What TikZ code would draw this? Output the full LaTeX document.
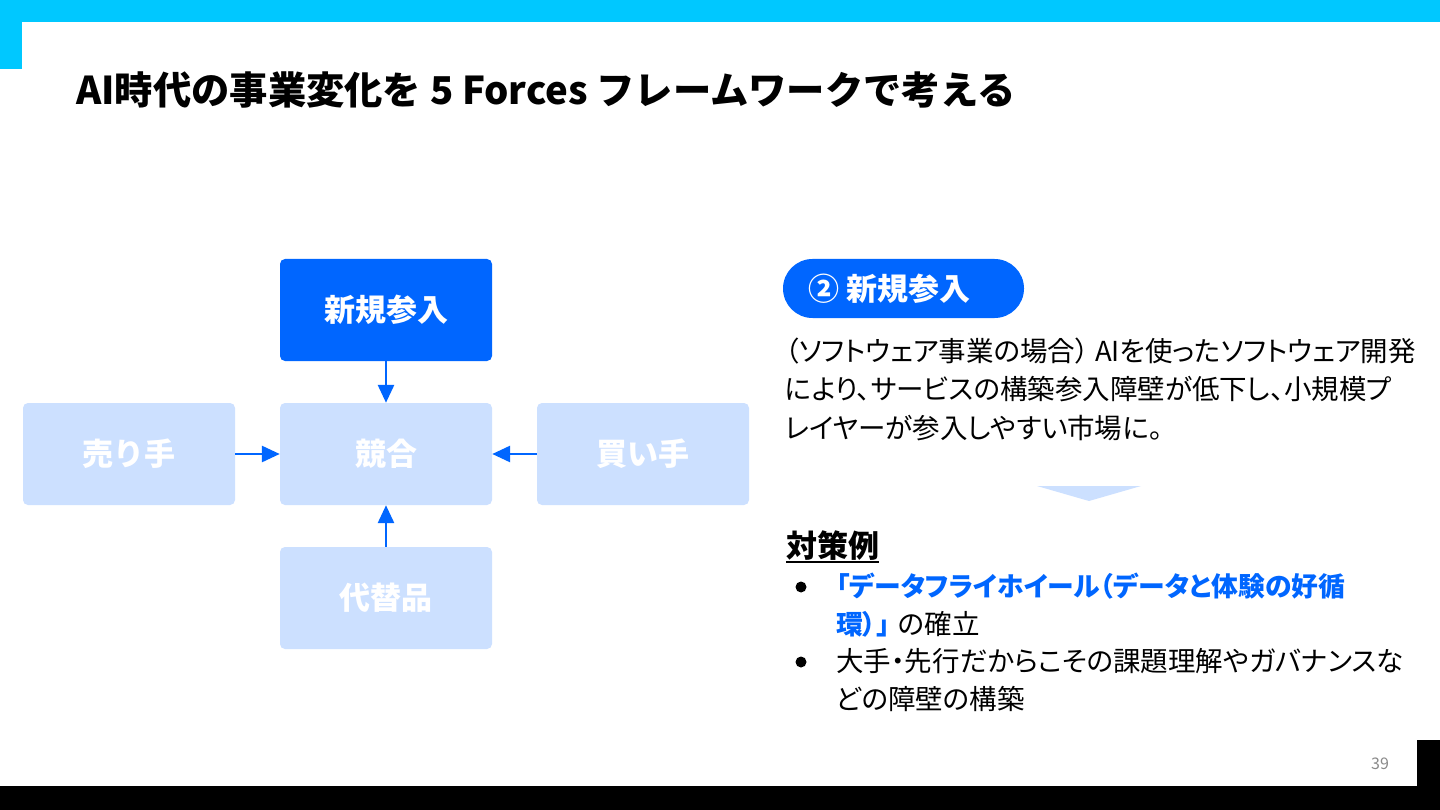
\documentclass[tikz,border=0pt]{standalone}
\usepackage{fontspec}
\setmainfont{Noto Sans CJK JP}
\newfontfamily\propfont{Noto Sans CJK JP}[RawFeature=+palt]
\usetikzlibrary{arrows.meta}
\definecolor{cyanbar}{HTML}{00C8FF}
\definecolor{mainblue}{HTML}{0066FF}
\definecolor{lightblue}{HTML}{CCE0FF}
\definecolor{pagegrey}{HTML}{8A8A8A}
\tikzset{
  forcebox/.style={rectangle, rounded corners=5pt, minimum width=212pt, minimum height=102pt, inner sep=0pt,
    text=white, font=\fontsize{31}{36}\selectfont\bfseries},
  activebox/.style={forcebox, fill=mainblue},
  passivebox/.style={forcebox, fill=lightblue},
  forcearrow/.style={draw=mainblue, line width=2.8pt, -{Triangle[length=18pt,width=16pt]}},
  bodytext/.style={anchor=base west, inner sep=0pt, font=\propfont\fontsize{27.5}{30}\selectfont},
  boldtext/.style={bodytext, text=mainblue, font=\propfont\fontsize{26.8}{30}\selectfont\bfseries},
}
\begin{document}
\begin{tikzpicture}[x=1pt,y=-1pt]
\useasboundingbox (0,0) rectangle (1440,810);
\fill[white] (0,0) rectangle (1440,810);
% frame bars
\fill[cyanbar] (0,0) rectangle (1440,22);
\fill[cyanbar] (0,0) rectangle (22,69);
\fill[black] (0,786) rectangle (1440,810);
\fill[black] (1417,740) rectangle (1440,810);
% title
\node[anchor=base west, inner sep=0pt, font=\fontsize{38.3}{44}\selectfont\bfseries] (title) at (76,105)
  {AI時代の事業変化を 5 Forces フレームワークで考える};
% five forces
\node[activebox] (entry) at (386,310) {新規参入};
\node[passivebox] (rivalry) at (386,454) {競合};
\node[passivebox] (seller) at (129,454) {売り手};
\node[passivebox] (buyer) at (643,454) {買い手};
\node[passivebox] (subst) at (386,598) {代替品};
\draw[forcearrow] (entry.south) -- (rivalry.north);
\draw[forcearrow] (seller.east) -- (rivalry.west);
\draw[forcearrow] (buyer.west) -- (rivalry.east);
\draw[forcearrow] (subst.north) -- (rivalry.south);
% pill
\node[rectangle, rounded corners=29.5pt, fill=mainblue, minimum width=241pt, minimum height=59pt, inner sep=0pt] (pill) at (903.5,288.5) {};
\node[anchor=west, inner sep=0pt, text=white, font=\fontsize{31}{36}\selectfont\bfseries] (pilltext) at (808,288.5) {② 新規参入};
% paragraph
\node[bodytext] (p1) at (785,361) {（ソフトウェア事業の場合） AIを使ったソフトウェア開発};
\node[bodytext] (p2) at (785,399) {により、サービスの構築参入障壁が低下し、小規模プ};
\node[bodytext] (p3) at (785,438) {レイヤーが参入しやすい市場に。};
% down triangle
\fill[lightblue] (1037,486) -- (1141,486) -- (1089,501) -- cycle;
% countermeasures
\node[anchor=base west, inner sep=0pt, font=\fontsize{31}{34}\selectfont\bfseries] (cm) at (786,557) {対策例};
\draw[black, line width=1.8pt] (cm.south west |- 0,562) -- (cm.south east |- 0,562);
\fill[black] (801,587) circle (5.5pt);
\fill[black] (801,662) circle (5.5pt);
\node[boldtext] (b1a) at (836,596) {「データフライホイール（データと体験の好循};
\node[boldtext] (b1b) at (836,634) {環）」};
\node[bodytext] (b1c) at ([xshift=8pt]b1b.base east) {の確立};
\node[bodytext] (b2a) at (836,671) {大手・先行だからこその課題理解やガバナンスな};
\node[bodytext] (b2b) at (836,709) {どの障壁の構築};
% page number
\node[text=pagegrey, inner sep=0pt, font=\fontsize{16}{19}\selectfont] (page) at (1380,764) {39};
\end{tikzpicture}
\end{document}
